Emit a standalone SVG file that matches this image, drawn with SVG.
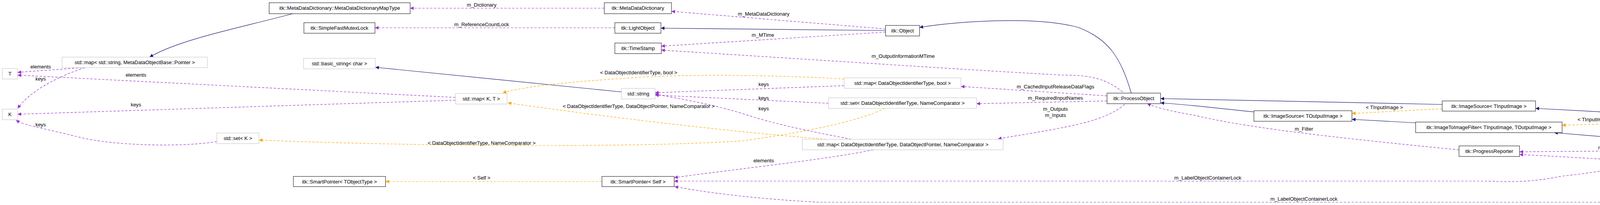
<svg xmlns="http://www.w3.org/2000/svg" width="5933" height="524" viewBox="0 0 5933 524">
<style>
.n rect{fill:#fff;stroke:#000;stroke-width:1}
.n.g rect{stroke:#bfbfbf}
.n.f rect{fill:#bfbfbf}
text{font-family:"Liberation Sans",Arial,sans-serif;font-size:13px;fill:#000}
.n text{text-anchor:middle}
.l{text-anchor:middle}
.s{fill:none;stroke:#191970;stroke-width:1.2}
.p{fill:none;stroke:#9a32cd;stroke-width:1.2;stroke-dasharray:6,4}
.o{fill:none;stroke:#ffa500;stroke-width:1.2;stroke-dasharray:6,4}
.s{marker-end:url(#ms)}.p{marker-end:url(#mp)}.o{marker-end:url(#mo)}
</style>
<defs>
<marker id="ms" viewBox="0 0 10 10" refX="10" refY="5" markerWidth="10" markerHeight="9" markerUnits="userSpaceOnUse" orient="auto"><path d="M0,0L10,5L0,10z" fill="#191970"/></marker>
<marker id="mp" viewBox="0 0 10 10" refX="10" refY="5" markerWidth="10" markerHeight="9" markerUnits="userSpaceOnUse" orient="auto"><path d="M0,0L10,5L0,10z" fill="#9a32cd"/></marker>
<marker id="mo" viewBox="0 0 10 10" refX="10" refY="5" markerWidth="10" markerHeight="9" markerUnits="userSpaceOnUse" orient="auto"><path d="M0,0L10,5L0,10z" fill="#ffa500"/></marker>
</defs>
<rect width="5933" height="524" fill="#fff"/>
<g id="edges">
<path class="s" d="M749,35 C620,70 460,100 383,146"/>
<path class="p" d="M1547,21 L1050,21"/>
<path class="p" d="M1574,71 L960,71"/>
<path class="s" d="M2267,78 L1692,72"/>
<path class="p" d="M2267,74 L1719,29"/>
<path class="p" d="M2267,82 L1693,118"/>
<path class="p" d="M2874,235 C2830,200 2790,192 2721,192 C2500,180 2200,160 1693,128"/>
<path class="s" d="M2896,238 C2870,150 2840,100 2760,70 C2650,40 2450,55 2354,70"/>
<path class="s" d="M1591,235 L961,172"/>
<path class="p" d="M210,173 L45,185"/>
<path class="p" d="M217,173 C150,195 80,230 45,277"/>
<path class="p" d="M1166,249 L45,192"/>
<path class="p" d="M1166,256 L45,292"/>
<path class="p" d="M555,362 C480,375 300,375 200,350 C100,325 60,320 41,307"/>
<path class="o" d="M2161,202 C2000,192 1750,188 1600,200 C1450,210 1350,220 1287,237"/>
<path class="o" d="M2115,356 C2000,347 1700,320 1300,263"/>
<path class="o" d="M2265,277 C2200,310 2050,340 1900,360 C1600,380 1000,372 663,358"/>
<path class="p" d="M2161,219 L1677,237"/>
<path class="p" d="M2121,264 L1677,243"/>
<path class="p" d="M2179,356 C2100,340 2000,323 1900,290 C1800,260 1720,250 1677,240"/>
<path class="p" d="M2834,245 L2460,221"/>
<path class="p" d="M2834,258 L2500,265"/>
<path class="p" d="M2879,267 C2840,300 2780,315 2700,330 C2620,345 2580,350 2555,355"/>
<path class="p" d="M2236,383 C2100,410 1900,430 1726,454"/>
<path class="o" d="M1541,464 L987,464"/>
<path class="p" d="M4300,392 C4200,420 4100,440 4000,450 C3900,470 3850,463 3800,463 L1726,463"/>
<path class="p" d="M4985,422 C4800,490 4600,517 4450,517 L2100,517 C2000,512 1850,500 1727,477"/>
<path class="p" d="M3735,383 C3500,360 3200,330 3060,295 C3000,285 2960,275 2937,265"/>
<path class="s" d="M3692,267 L2971,252"/>
<path class="s" d="M3210,286 C3100,275 3050,268 2971,263"/>
<path class="o" d="M3692,278 L3461,290"/>
<path class="s" d="M3624,314 L3461,305"/>
<path class="s" d="M4251,294 L3931,277"/>
<path class="o" d="M4251,313 L3999,320"/>
<path class="s" d="M4274,364 L3979,339"/>
<path class="p" d="M4261,385 L3890,388"/>
<path class="p" d="M4867,413 C4600,420 4450,425 4300,418 C4150,410 4000,400 3890,395"/>
<path class="o" d="M4867,399 L4605,386"/>
<path class="s" d="M4973,393 C4850,340 4700,300 4542,322"/>
<path class="s" d="M5251,407 L5200,407"/>
<path class="s" d="M5592,407 L5541,407"/>
</g>
<g id="labels">
<text class="l" x="1233" y="17">m_Dictionary</text>
<text class="l" x="1233" y="67">m_ReferenceCountLock</text>
<text class="l" x="1955" y="40">m_MetaDataDictionary</text>
<text class="l" x="1953" y="94">m_MTime</text>
<text class="l" x="2312" y="148">m_OutputInformationMTime</text>
<text class="l" x="104" y="175">elements</text>
<text class="l" x="104" y="206">keys</text>
<text class="l" x="348" y="196">elements</text>
<text class="l" x="348" y="272">keys</text>
<text class="l" x="104" y="323">keys</text>
<text class="l" x="1635" y="190">&lt; DataObjectIdentifierType, bool &gt;</text>
<text class="l" x="1635" y="276">&lt; DataObjectIdentifierType, DataObjectPointer, NameComparator &gt;</text>
<text class="l" x="1233" y="370">&lt; DataObjectIdentifierType, NameComparator &gt;</text>
<text class="l" x="1955" y="220">keys</text>
<text class="l" x="1955" y="255">keys</text>
<text class="l" x="1955" y="282">keys</text>
<text class="l" x="2702" y="226">m_CachedInputReleaseDataFlags</text>
<text class="l" x="2702" y="255">m_RequiredInputNames</text>
<text class="l" x="2702" y="283">m_Outputs</text>
<text class="l" x="2702" y="299">m_Inputs</text>
<text class="l" x="1955" y="415">elements</text>
<text class="l" x="1233" y="459">&lt; Self &gt;</text>
<text class="l" x="3092" y="459">m_LabelObjectContainerLock</text>
<text class="l" x="3338" y="513">m_LabelObjectContainerLock</text>
<text class="l" x="3338" y="334">m_Filter</text>
<text class="l" x="3544" y="279">&lt; TInputImage &gt;</text>
<text class="l" x="4126" y="310">&lt; TInputImage, TInputImage &gt;</text>
<text class="l" x="4126" y="382">m_Progress</text>
<text class="l" x="4434" y="415">m_Progress</text>
<text class="l" x="4742" y="384">&lt; TInputImage, TInputImage &gt;</text>
</g>
<g id="n1" class="n"><rect x="689" y="7" width="361" height="28"/><text x="869.5" y="25">itk::MetaDataDictionary::MetaDataDictionaryMapType</text></g>
<g id="n2" class="n"><rect x="778" y="58" width="182" height="27"/><text x="869" y="76">itk::SimpleFastMutexLock</text></g>
<g id="n3" class="n g"><rect x="777" y="149" width="184" height="27"/><text x="869" y="167">std::basic_string&lt; char &gt;</text></g>
<g id="n4" class="n g"><rect x="159" y="146" width="372" height="27"/><text x="345" y="164">std::map&lt; std::string, MetaDataObjectBase::Pointer &gt;</text></g>
<g id="n5" class="n g"><rect x="6" y="175" width="39" height="27"/><text x="25.5" y="193">T</text></g>
<g id="n6" class="n g"><rect x="6" y="279" width="39" height="27"/><text x="25.5" y="297">K</text></g>
<g id="n7" class="n g"><rect x="555" y="340" width="108" height="27"/><text x="609" y="358">std::set&lt; K &gt;</text></g>
<g id="n8" class="n"><rect x="751" y="451" width="236" height="26"/><text x="869" y="469">itk::SmartPointer&lt; TObjectType &gt;</text></g>
<g id="n9" class="n"><rect x="1547" y="7" width="172" height="28"/><text x="1633" y="25">itk::MetaDataDictionary</text></g>
<g id="n10" class="n"><rect x="1574" y="58" width="118" height="27"/><text x="1633" y="76">itk::LightObject</text></g>
<g id="n11" class="n"><rect x="1574" y="110" width="119" height="27"/><text x="1633.5" y="128">itk::TimeStamp</text></g>
<g id="n12" class="n g"><rect x="1591" y="226" width="86" height="27"/><text x="1634" y="244">std::string</text></g>
<g id="n13" class="n g"><rect x="1166" y="239" width="132" height="27"/><text x="1232" y="257">std::map&lt; K, T &gt;</text></g>
<g id="n14" class="n"><rect x="1541" y="451" width="185" height="26"/><text x="1633.5" y="469">itk::SmartPointer&lt; Self &gt;</text></g>
<g id="n15" class="n"><rect x="2267" y="65" width="87" height="27"/><text x="2310.5" y="83">itk::Object</text></g>
<g id="n16" class="n g"><rect x="2161" y="199" width="299" height="27"/><text x="2310.5" y="217">std::map&lt; DataObjectIdentifierType, bool &gt;</text></g>
<g id="n17" class="n g"><rect x="2121" y="250" width="379" height="27"/><text x="2310.5" y="268">std::set&lt; DataObjectIdentifierType, NameComparator &gt;</text></g>
<g id="n18" class="n g"><rect x="2054" y="356" width="514" height="27"/><text x="2311" y="374">std::map&lt; DataObjectIdentifierType, DataObjectPointer, NameComparator &gt;</text></g>
<g id="n19" class="n"><rect x="2834" y="238" width="137" height="27"/><text x="2902.5" y="256">itk::ProcessObject</text></g>
<g id="n20" class="n"><rect x="3692" y="258" width="239" height="26"/><text x="3811.5" y="276">itk::ImageSource&lt; TInputImage &gt;</text></g>
<g id="n21" class="n"><rect x="3210" y="283" width="251" height="27"/><text x="3335.5" y="301">itk::ImageSource&lt; TOutputImage &gt;</text></g>
<g id="n22" class="n"><rect x="3624" y="312" width="375" height="27"/><text x="3811.5" y="330">itk::ImageToImageFilter&lt; TInputImage, TOutputImage &gt;</text></g>
<g id="n23" class="n"><rect x="3735" y="373" width="155" height="27"/><text x="3812.5" y="391">itk::ProgressReporter</text></g>
<g id="n24" class="n"><rect x="4251" y="294" width="364" height="27"/><text x="4433" y="312">itk::ImageToImageFilter&lt; TInputImage, TInputImage &gt;</text></g>
<g id="n25" class="n"><rect x="4261" y="364" width="344" height="27"/><text x="4433" y="382">itk::LabelMapFilter&lt; TInputImage, TOutputImage &gt;</text></g>
<g id="n26" class="n"><rect x="4867" y="393" width="333" height="27"/><text x="5033.5" y="411">itk::LabelMapFilter&lt; TInputImage, TInputImage &gt;</text></g>
<g id="n27" class="n"><rect x="5251" y="393" width="290" height="27"/><text x="5396" y="411">itk::InPlaceLabelMapFilter&lt; TInputImage &gt;</text></g>
<g id="n28" class="n f"><rect x="5592" y="393" width="336" height="27"/><text x="5760" y="411">itk::ChangeRegionLabelMapFilter&lt; TInputImage &gt;</text></g>
</svg>
